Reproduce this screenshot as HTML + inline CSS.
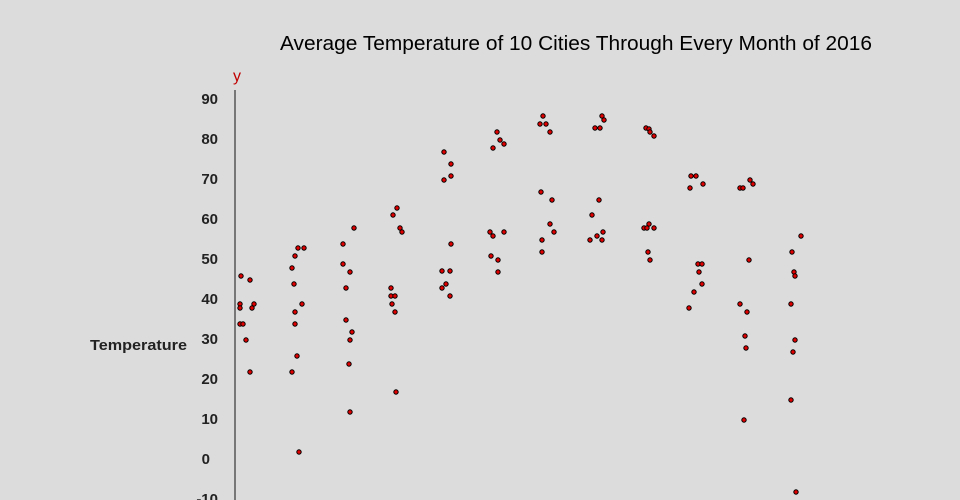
<!DOCTYPE html><html><head><style>body{margin:0;background:#dcdcdc;}svg{display:block;font-family:"Liberation Sans",sans-serif;}</style></head><body>
<svg width="960" height="500" viewBox="0 0 960 500">
<rect width="960" height="500" fill="#dcdcdc"/>
<text x="280" y="50" font-size="20" textLength="592" lengthAdjust="spacingAndGlyphs" fill="#000">Average Temperature of 10 Cities Through Every Month of 2016</text>
<text x="237" y="81" font-size="16" text-anchor="middle" fill="#c00000">y</text>
<line x1="235" y1="90" x2="235" y2="500" stroke="#777" stroke-width="2"/>
<g font-size="15" font-weight="bold" fill="#222" text-anchor="end">
<text x="218" y="104">90</text><text x="218" y="144">80</text><text x="218" y="184">70</text><text x="218" y="224">60</text><text x="218" y="264">50</text><text x="218" y="304">40</text><text x="218" y="344">30</text><text x="218" y="384">20</text><text x="218" y="424">10</text><text x="210" y="464">0</text><text x="218" y="504">-10</text>
</g>
<text x="90" y="350" font-size="15" font-weight="bold" textLength="97" lengthAdjust="spacingAndGlyphs" fill="#222">Temperature</text>
<g fill="#e00000" stroke="#000" stroke-width="1">
<circle cx="241" cy="276" r="2.2"/><circle cx="250" cy="280" r="2.2"/><circle cx="240" cy="304" r="2.2"/><circle cx="240" cy="308" r="2.2"/><circle cx="254" cy="304" r="2.2"/><circle cx="252" cy="308" r="2.2"/><circle cx="240" cy="324" r="2.2"/><circle cx="243" cy="324" r="2.2"/><circle cx="246" cy="340" r="2.2"/><circle cx="250" cy="372" r="2.2"/>
<circle cx="292" cy="268" r="2.2"/><circle cx="298" cy="248" r="2.2"/><circle cx="304" cy="248" r="2.2"/><circle cx="295" cy="256" r="2.2"/><circle cx="294" cy="284" r="2.2"/><circle cx="302" cy="304" r="2.2"/><circle cx="295" cy="312" r="2.2"/><circle cx="295" cy="324" r="2.2"/><circle cx="297" cy="356" r="2.2"/><circle cx="292" cy="372" r="2.2"/><circle cx="299" cy="452" r="2.2"/>
<circle cx="343" cy="244" r="2.2"/><circle cx="354" cy="228" r="2.2"/><circle cx="343" cy="264" r="2.2"/><circle cx="350" cy="272" r="2.2"/><circle cx="346" cy="288" r="2.2"/><circle cx="346" cy="320" r="2.2"/><circle cx="352" cy="332" r="2.2"/><circle cx="350" cy="340" r="2.2"/><circle cx="349" cy="364" r="2.2"/><circle cx="350" cy="412" r="2.2"/>
<circle cx="397" cy="208" r="2.2"/><circle cx="393" cy="215" r="2.2"/><circle cx="400" cy="228" r="2.2"/><circle cx="402" cy="232" r="2.2"/><circle cx="391" cy="288" r="2.2"/><circle cx="391" cy="296" r="2.2"/><circle cx="395" cy="296" r="2.2"/><circle cx="392" cy="304" r="2.2"/><circle cx="395" cy="312" r="2.2"/><circle cx="396" cy="392" r="2.2"/>
<circle cx="444" cy="152" r="2.2"/><circle cx="451" cy="164" r="2.2"/><circle cx="444" cy="180" r="2.2"/><circle cx="451" cy="176" r="2.2"/><circle cx="442" cy="271" r="2.2"/><circle cx="450" cy="271" r="2.2"/><circle cx="442" cy="288" r="2.2"/><circle cx="446" cy="284" r="2.2"/><circle cx="451" cy="244" r="2.2"/><circle cx="450" cy="296" r="2.2"/>
<circle cx="497" cy="132" r="2.2"/><circle cx="500" cy="140" r="2.2"/><circle cx="493" cy="148" r="2.2"/><circle cx="504" cy="144" r="2.2"/><circle cx="490" cy="232" r="2.2"/><circle cx="493" cy="236" r="2.2"/><circle cx="504" cy="232" r="2.2"/><circle cx="491" cy="256" r="2.2"/><circle cx="498" cy="260" r="2.2"/><circle cx="498" cy="272" r="2.2"/>
<circle cx="543" cy="116" r="2.2"/><circle cx="540" cy="124" r="2.2"/><circle cx="546" cy="124" r="2.2"/><circle cx="550" cy="132" r="2.2"/><circle cx="541" cy="192" r="2.2"/><circle cx="552" cy="200" r="2.2"/><circle cx="550" cy="224" r="2.2"/><circle cx="554" cy="232" r="2.2"/><circle cx="542" cy="240" r="2.2"/><circle cx="542" cy="252" r="2.2"/>
<circle cx="602" cy="116" r="2.2"/><circle cx="604" cy="120" r="2.2"/><circle cx="595" cy="128" r="2.2"/><circle cx="600" cy="128" r="2.2"/><circle cx="592" cy="215" r="2.2"/><circle cx="599" cy="200" r="2.2"/><circle cx="603" cy="232" r="2.2"/><circle cx="597" cy="236" r="2.2"/><circle cx="602" cy="240" r="2.2"/><circle cx="590" cy="240" r="2.2"/>
<circle cx="646" cy="128" r="2.2"/><circle cx="649" cy="129" r="2.2"/><circle cx="650" cy="132" r="2.2"/><circle cx="654" cy="136" r="2.2"/><circle cx="644" cy="228" r="2.2"/><circle cx="649" cy="224" r="2.2"/><circle cx="654" cy="228" r="2.2"/><circle cx="647" cy="228" r="2.2"/><circle cx="648" cy="252" r="2.2"/><circle cx="650" cy="260" r="2.2"/>
<circle cx="691" cy="176" r="2.2"/><circle cx="696" cy="176" r="2.2"/><circle cx="690" cy="188" r="2.2"/><circle cx="703" cy="184" r="2.2"/><circle cx="698" cy="264" r="2.2"/><circle cx="702" cy="264" r="2.2"/><circle cx="699" cy="272" r="2.2"/><circle cx="702" cy="284" r="2.2"/><circle cx="694" cy="292" r="2.2"/><circle cx="689" cy="308" r="2.2"/>
<circle cx="740" cy="188" r="2.2"/><circle cx="743" cy="188" r="2.2"/><circle cx="750" cy="180" r="2.2"/><circle cx="753" cy="184" r="2.2"/><circle cx="749" cy="260" r="2.2"/><circle cx="740" cy="304" r="2.2"/><circle cx="747" cy="312" r="2.2"/><circle cx="745" cy="336" r="2.2"/><circle cx="746" cy="348" r="2.2"/><circle cx="744" cy="420" r="2.2"/>
<circle cx="801" cy="236" r="2.2"/><circle cx="792" cy="252" r="2.2"/><circle cx="794" cy="272" r="2.2"/><circle cx="795" cy="276" r="2.2"/><circle cx="791" cy="304" r="2.2"/><circle cx="795" cy="340" r="2.2"/><circle cx="793" cy="352" r="2.2"/><circle cx="791" cy="400" r="2.2"/><circle cx="796" cy="492" r="2.2"/>
</g>
</svg></body></html>
